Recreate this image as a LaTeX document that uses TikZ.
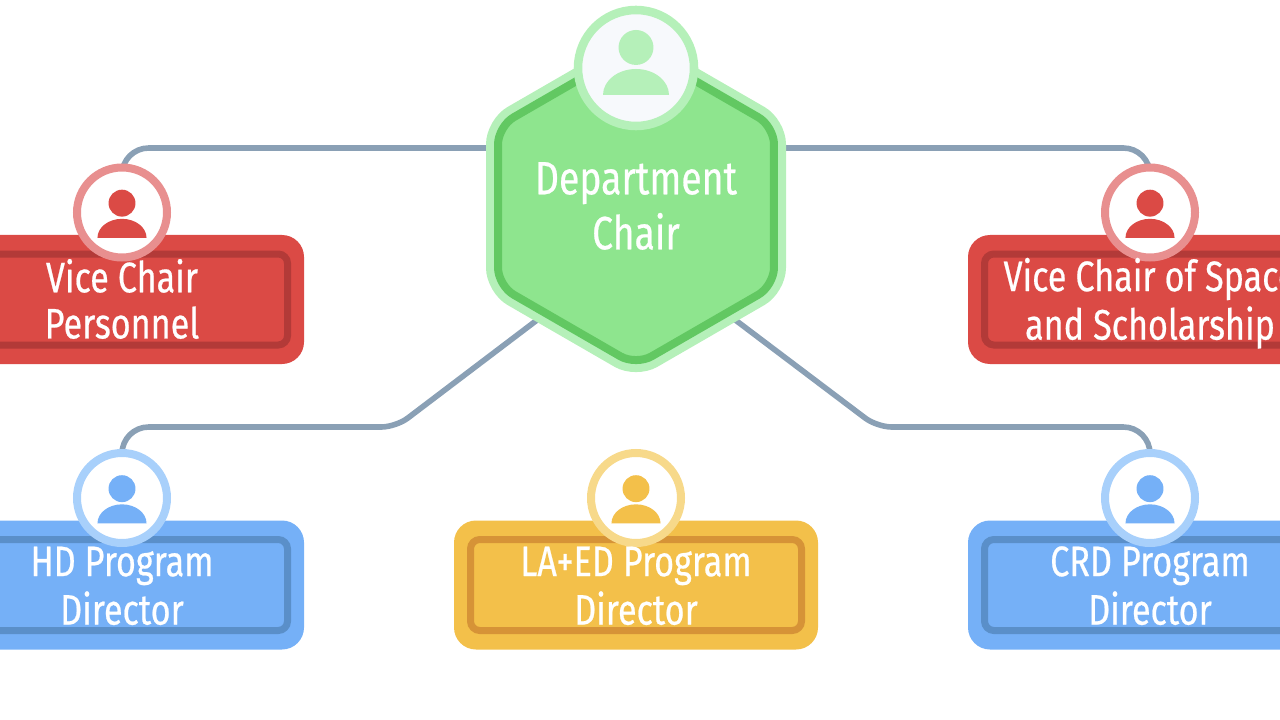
\documentclass[tikz,border=0pt]{standalone}
\usepackage{fontspec}
\setmainfont[FakeStretch=0.8,FakeBold=0.5]{Fira Sans}
\usetikzlibrary{shapes.geometric,backgrounds}

\definecolor{linkgrey}{HTML}{8AA0B5}
\definecolor{greenmain}{HTML}{8EE58E}
\definecolor{greendark}{HTML}{62C862}
\definecolor{greenring}{HTML}{B5F0B9}
\definecolor{greenpale}{HTML}{F7F9FC}
\definecolor{redmain}{HTML}{DB4A45}
\definecolor{reddark}{HTML}{B33A38}
\definecolor{redring}{HTML}{E88F8F}
\definecolor{bluemain}{HTML}{75B0F7}
\definecolor{bluedark}{HTML}{5A8FC9}
\definecolor{bluering}{HTML}{A8D0FB}
\definecolor{yellowmain}{HTML}{F3C04A}
\definecolor{yellowdark}{HTML}{D69337}
\definecolor{yellowring}{HTML}{F7D98A}

\begin{document}
\begin{tikzpicture}[
	x=0.75pt, y=-0.75pt,
	cardouter/.style = {minimum width=273pt, minimum height=96.75pt, rounded corners=16.5pt, inner sep=0pt, outer sep=0pt},
	cardinner/.style = {minimum width=248.25pt, minimum height=68.25pt, rounded corners=7pt, line width=5.25pt, inner sep=0pt, outer sep=0pt},
	cardtext/.style = {text=white, align=center, inner sep=0pt, font=\fontsize{32}{34.6}\selectfont},
	iconring/.style = {circle, minimum size=67.5pt, line width=6pt, inner sep=0pt, outer sep=0pt, fill=white},
	link/.style = {draw=linkgrey, line width=4.2pt},
]
	\useasboundingbox (0,0) rectangle (1280,720);

	\node [regular polygon, regular polygon sides=6, shape border rotate=30, minimum size=239pt, inner sep=0pt, outer sep=0pt, rounded corners=13.5pt,
	       fill=greenmain, draw=greendark, line width=6pt, preaction={draw=greenring, line width=18pt}] (chair) at (636,206) {};
	\node [text=white, align=center, font=\fontsize{35}{41.25}\selectfont] (chairtext) at (636,206) {Department\\Chair};
	\node [iconring, minimum size=87pt, line width=6.4pt, draw=greenring, fill=greenpale] (chairicon) at (636,68) {};
	\fill [greenring] ([yshift=15.4pt]chairicon.center) circle (13.1pt);
	\fill [greenring] ([xshift=-24.75pt,yshift=-20.25pt]chairicon.center) arc [start angle=180, end angle=0, x radius=24.75pt, y radius=19.5pt] -- cycle;

	\foreach \nm/\px/\py/\tone/\txt in {vicepers/122/299.5/red/{\strut Vice Chair\\\strut Personnel},
					    vicespace/1150/299.5/red/{\strut Vice Chair of Space\\\strut and Scholarship},
					    hd/122/585/blue/{\strut HD Program\\\strut Director},
					    laed/636/585/yellow/{\strut LA+ED Program\\\strut Director},
					    crd/1150/585/blue/{\strut CRD Program\\\strut Director}}{%
		\node at (\px,\py) [cardouter, fill=\tone main] (\nm box) {};
		\node at (\nm box) [cardinner, draw=\tone dark] (\nm frame) {};
		\node at ([yshift=65.25pt]\nm box.center) [iconring, draw=\tone ring] (\nm icon) {};
		\fill [\tone main] ([yshift=7pt]\nm icon.center) circle (10.1pt);
		\fill [\tone main] ([xshift=-18.4pt,yshift=-19pt]\nm icon.center) arc [start angle=180, end angle=0, x radius=18.4pt, y radius=14.25pt] -- cycle;
		\node at ([yshift=-4.6pt]\nm box.center) [cardtext] (\nm text) {\txt};
	}

	\coordinate (hdbend) at (396,427);
	\coordinate (crdbend) at (877,427);

	\begin{scope}[on background layer]
		\draw [link, rounded corners=20pt] ([yshift=43.5pt]chair.center) -| (vicepersicon.center);
		\draw [link, rounded corners=20pt] ([yshift=43.5pt]chair.center) -| (vicespaceicon.center);
		\draw [link] ([yshift=-29.25pt]chair.center) [rounded corners=11pt] -- (hdbend) [rounded corners=20pt] -| (hdicon.center);
		\draw [link] ([yshift=-29.25pt]chair.center) [rounded corners=11pt] -- (crdbend) [rounded corners=20pt] -| (crdicon.center);
	\end{scope}
\end{tikzpicture}
\end{document}
